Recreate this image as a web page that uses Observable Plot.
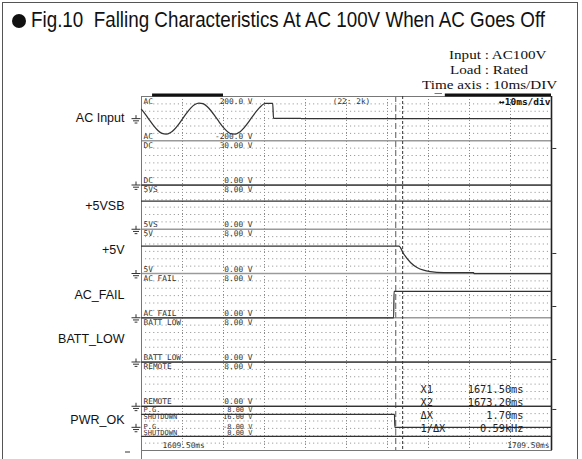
<!DOCTYPE html>
<html><head><meta charset="utf-8">
<script src="https://cdn.jsdelivr.net/npm/d3@7"></script>
<script src="https://cdn.jsdelivr.net/npm/@observablehq/plot@0.6"></script>
<style>
body{margin:0;background:#fff;}
#wrap{position:relative;width:582px;height:459px;overflow:hidden;background:#fff;}
#box{position:absolute;left:2px;top:2px;width:574px;height:500px;border:1.5px solid #555;z-index:3;pointer-events:none;}
#titlebar{position:relative;height:40px;}
#bullet{position:absolute;left:12px;top:14px;width:14px;height:14px;border-radius:50%;background:#111;}
#ttext{position:absolute;left:31px;top:9px;font:22px/22px "Liberation Sans",Arial,sans-serif;color:#111;white-space:pre;transform-origin:0 0;}
.hl{position:absolute;font:13.5px/12px "Liberation Serif","Times New Roman",serif;color:#111;white-space:pre;z-index:2;transform-origin:0 0;}
#chart{position:relative;}
</style></head>
<body>
<div id="wrap">
  <div id="box"></div>
  <div id="titlebar"><span id="bullet"></span><span id="ttext">Fig.10  Falling Characteristics At AC 100V When AC Goes Off</span></div>
  <div id="header"></div>
  <div id="chart"></div>
</div>
<script>
// ---------- data ----------
const timeDomain = [1609.5, 1709.5];           // ms, 10 ms/div
const channelNames  = ["AC", "DC", "5VS", "5V", "AC FAIL", "BATT LOW", "REMOTE"];
const channelTop    = ["200.0 V", "30.00 V", "8.00 V", "8.00 V", "8.00 V", "8.00 V", "8.00 V"];
const channelBottom = ["-200.0 V", "0.00 V", "0.00 V", "0.00 V", "0.00 V", "0.00 V", "0.00 V"];
const channelMin = [-200, 0, 0, 0, 0, 0, 0];
const channelMax = [200, 30, 8, 8, 8, 8, 8];

const pgNames = ["P.G.", "SHUTDOWN", "P.G.", "SHUTDOWN"];
const pgLabels = ["8.00 V", "16.00 V", "-8.00 V", "0.00 V"];
const pgMin = -8, pgMax = 8, sdMin = 0, sdMax = 16;

const sideLabels = ["AC Input", "+5VSB", "+5V", "AC_FAIL", "BATT_LOW", "PWR_OK"];
const sideLabelChannel = [0, 2, 3, 4, 5, 7];

const acTime = [1609.5,1610.5,1611.5,1612.5,1613.5,1614.5,1615.5,1616.5,1617.5,1618.5,1619.5,1620.5,1621.5,1622.5,1623.5,1624.5,1625.5,1626.5,1627.5,1628.5,1629.5,1630.5,1631.5,1632.5,1633.5,1634.5,1635.5,1636.5,1637.5,1638.5,1639.3,1639.8,1641.5,1641.7,1648.3,1648.5,1709.5];
const acVolt = [84,37,-16,-66,-108,-134,-141,-128,-98,-54,-2,50,95,127,141,135,110,69,19,-33,-82,-118,-138,-139,-120,-84,-37,16,66,108,132,137,137,3,3,0,0];
const dcTime = [1609.5, 1709.5], dcVolt = [0, 0];
const vsbTime = [1609.5, 1709.5], vsbVolt = [5.1, 5.1];
const v5Time = [1609.5,1672.3,1673.4,1675.1,1676.7,1678.3,1680.0,1683.2,1690.5,1690.6,1709.5];
const v5Volt = [4.95,4.95,3.6,2.0,1.1,0.6,0.35,0.18,0.15,0,0];
const acFailTime = [1609.5, 1671.0, 1671.1, 1709.5], acFailVolt = [0, 0, 4.75, 4.75];
const battTime = [1609.5, 1709.5], battVolt = [0, 0];
const remoteTime = [1609.5, 1709.5], remoteVolt = [0, 0];
const pgTime = [1609.5, 1671.2, 1671.3, 1709.5], pgVolt = [3.7, 3.7, -3.2, -3.2];
const sdTime = [1609.5, 1709.5], sdVolt = [0, 0];

const cursorTimes = [1671.5, 1673.2];
const cursorNames = ["X1", "X2", "ΔX", "1/ΔX"];
const cursorValues = ["1671.50ms", "1673.20ms", "1.70ms", "0.59kHz"];
const timeLabels = ["1609.50ms", "1709.50ms"];
const rateLabel = "(22: 2k)";
const divLabel = "↔10ms/div";
const topBars = [{from: 1612.2, to: 1629.5}, {from: 1683.6, to: 1709.5}];
const topDash = [{from: 1681.1, to: 1682.9}];
const rightTickDivs = [6.825, 4.452, 3.254, 2.056, 0.927];

const headerKeys = ["Input", "Load", "Time axis"];
const headerVals = ["AC100V", "Rated", "10ms/DIV"];

// ---------- helpers ----------
const [t0, t1] = timeDomain;
const toDiv = (i, v) => (7 - i) + (v - channelMin[i]) / (channelMax[i] - channelMin[i]);
const pgBand = [0.32, 1];
const toPg = (v, lo, hi) => pgBand[0] + (v - lo) / (hi - lo) * (pgBand[1] - pgBand[0]);
const zip = (ts, vs, f, s) => ts.map((t, k) => ({t, y: f(vs[k]), s}));

const traces = [
  ...zip(acTime, acVolt, v => toDiv(0, v), "AC"),
  ...zip(dcTime, dcVolt, v => toDiv(1, v), "DC"),
  ...zip(vsbTime, vsbVolt, v => toDiv(2, v), "5VS"),
  ...zip(v5Time, v5Volt, v => toDiv(3, v), "5V"),
  ...zip(acFailTime, acFailVolt, v => toDiv(4, v), "ACFAIL"),
  ...zip(battTime, battVolt, v => toDiv(5, v), "BATT"),
  ...zip(remoteTime, remoteVolt, v => toDiv(6, v), "REMOTE"),
  ...zip(pgTime, pgVolt, v => toPg(v, pgMin, pgMax), "PG"),
  ...zip(sdTime, sdVolt, v => toPg(v, sdMin, sdMax), "SD")
];

const rows = [];
for (let k = 0; k < 8; k++) for (let j = 1; j < 6; j++) rows.push(k + j / 6);
const majors = d3.range(1, 10).map(k => t0 + k * 10);
const separators = d3.range(1, 8);

const topRows = channelNames.map((n, i) => ({n, v: channelTop[i], y: 8 - i}));
const botRows = channelNames.map((n, i) => ({n, v: channelBottom[i], y: 7 - i}));
const sideRows = sideLabels.map((n, k) => {
  const c = sideLabelChannel[k];
  return {n, y: c < 7 ? (7 - c) + 0.5 : (pgBand[0] + pgBand[1]) / 2};
});
const groundLevels = channelNames.map((n, i) => toDiv(i, 0));

const groundSymbol = {draw(ctx) {
  ctx.moveTo(0, -3.5); ctx.lineTo(0, 0);
  ctx.moveTo(-4.5, 0); ctx.lineTo(4.5, 0);
  ctx.moveTo(-3, 2.2); ctx.lineTo(3, 2.2);
  ctx.moveTo(-1.4, 4.4); ctx.lineTo(1.4, 4.4);
}};
const tickSymbol = {draw(ctx) { ctx.moveTo(0, 0); ctx.lineTo(4, 0); }};
const dashSymbol = {draw(ctx) { ctx.moveTo(-2.5, 0); ctx.lineTo(2.5, 0); }};

const mono = "DejaVu Sans Mono, Liberation Mono, monospace";
const small = {fontFamily: mono, fontSize: 7.8, fill: "#333"};
const tiny = {fontFamily: mono, fontSize: 7, fill: "#333"};
const T0 = () => t0, T1 = () => t1;

const marks = [
  Plot.ruleY(rows, {stroke: "#8c8c8c", strokeWidth: 1, strokeDasharray: "1,3.1"}),
  Plot.ruleX(majors, {stroke: "#8c8c8c", strokeWidth: 1, strokeDasharray: "1,2"}),
  Plot.ruleY(separators, {stroke: "#9a9a9a", strokeWidth: 1.6}),
  Plot.frame({stroke: "#777", strokeWidth: 1}),
  Plot.ruleX([t1], {stroke: "#222", strokeWidth: 1.6}),
  Plot.ruleX([t0], {y1: () => 0, y2: () => -0.25, stroke: "#777"}),
  Plot.ruleX([cursorTimes[0]], {stroke: "#777", strokeWidth: 1.2, strokeDasharray: "6,3"}),
  Plot.ruleX([cursorTimes[1]], {stroke: "#333", strokeWidth: 1, strokeDasharray: "3,2"}),
  Plot.line(traces, {x: "t", y: "y", z: "s", stroke: "#333", strokeWidth: 1.25, curve: "monotone-x"}),
  Plot.ruleY(topBars, {y: () => 8, x1: "from", x2: "to", dy: -1.5, stroke: "#111", strokeWidth: 3}),
  Plot.ruleY(topDash, {y: () => 8, x1: "from", x2: "to", dy: -3, stroke: "#777", strokeWidth: 1}),
  // channel labels
  Plot.text(topRows, {x: T0, y: "y", text: "n", dx: 2, dy: 4.5, textAnchor: "start", ...small}),
  Plot.text(topRows, {x: T0, y: "y", text: "v", dx: 111, dy: 4.5, textAnchor: "end", ...small}),
  Plot.text(botRows, {x: T0, y: "y", text: "n", dx: 2, dy: -4.5, textAnchor: "start", ...small}),
  Plot.text(botRows, {x: T0, y: "y", text: "v", dx: 111, dy: -4.5, textAnchor: "end", ...small}),
  ...[3.4, 10.2].map((dy, k) => Plot.text([k], {x: T0, y: () => pgBand[1], text: () => pgNames[k], dx: 2, dy, textAnchor: "start", ...tiny})),
  ...[3.4, 10.2].map((dy, k) => Plot.text([k], {x: T0, y: () => pgBand[1], text: () => pgLabels[k], dx: 111, dy, textAnchor: "end", ...tiny})),
  ...[-10, -3.2].map((dy, k) => Plot.text([k], {x: T0, y: () => pgBand[0], text: () => pgNames[k + 2], dx: 2, dy, textAnchor: "start", ...tiny})),
  ...[-10, -3.2].map((dy, k) => Plot.text([k], {x: T0, y: () => pgBand[0], text: () => pgLabels[k + 2], dx: 111, dy, textAnchor: "end", ...tiny})),
  Plot.text([timeLabels[0]], {x: T0, y: () => 0, text: d => d, dx: 21, dy: -5, textAnchor: "start", ...small}),
  Plot.text([timeLabels[1]], {x: T1, y: () => 0, text: d => d, dx: -2, dy: -5, textAnchor: "end", ...small}),
  Plot.text([rateLabel], {x: () => (t0 + t1) / 2, y: () => 8, text: d => d, dx: 5, dy: 4.5, textAnchor: "middle", ...small}),
  Plot.text([divLabel], {x: T1, y: () => 8, text: d => d, dx: -1, dy: 5, textAnchor: "end", fontFamily: mono, fontSize: 9.5, fontWeight: "bold", fill: "#111"}),
  // cursor readout
  ...cursorNames.map((n, k) => Plot.text([n], {x: T1, y: () => 1, text: d => d, dx: -131, dy: -16.75 + 13 * k, textAnchor: "start", fontFamily: mono, fontSize: 10.3, fill: "#222"})),
  ...cursorValues.map((n, k) => Plot.text([n], {x: T1, y: () => 1, text: d => d, dx: -28, dy: -16.75 + 13 * k, textAnchor: "end", fontFamily: mono, fontSize: 10.3, fill: "#222"})),
  // side labels
  Plot.text(sideRows, {x: T0, y: "y", text: "n", dx: -17, dy: -1, textAnchor: "end", fontFamily: "Liberation Sans, Arial, sans-serif", fontSize: 12.5, fill: "#111", ariaLabel: "side-labels"}),
  // ground symbols & ticks
  Plot.dot(groundLevels, {x: T0, y: d => d, dx: -5.5, symbol: groundSymbol, stroke: "#333", fill: "none", strokeWidth: 1}),
  Plot.dot([0], {x: T0, y: () => pgBand[0], dx: -5.5, dy: -9, symbol: groundSymbol, stroke: "#333", fill: "none", strokeWidth: 1}),
  Plot.dot([0], {x: T0, y: () => 0, dx: -14, dy: 1.5, symbol: dashSymbol, stroke: "#333", fill: "none", strokeWidth: 1}),
  Plot.dot(rightTickDivs, {x: T1, y: d => d, dx: 0.8, symbol: tickSymbol, stroke: "#333", fill: "none", strokeWidth: 1})
];

const chart = Plot.plot({
  width: 582, height: 419,
  marginTop: 56, marginBottom: 9, marginLeft: 141, marginRight: 31,
  x: {domain: timeDomain, axis: null},
  y: {domain: [0, 8], axis: null},
  style: {background: "transparent", overflow: "visible"},
  marks
});
document.getElementById("chart").append(chart);

// condensed side labels
chart.querySelectorAll('g[aria-label="side-labels"] text').forEach(t => {
  const w = t.getComputedTextLength();
  t.setAttribute("textLength", (w * 0.87).toFixed(1));
  t.setAttribute("lengthAdjust", "spacingAndGlyphs");
});

// title fit
const tt = document.getElementById("ttext");
const tw = tt.getBoundingClientRect().width;
tt.style.transform = `scaleX(${514 / tw})`;

// header lines: one text per line, colons aligned
const header = document.getElementById("header");
const baselines = [59.5, 74.5, 89.5];
const colonX = 485, stretch = 1.12;
const probe = document.createElement("span");
probe.className = "hl"; probe.style.visibility = "hidden";
header.append(probe);
headerKeys.forEach((k, i) => {
  probe.textContent = k + " ";
  const pre = probe.getBoundingClientRect().width * stretch;
  const line = document.createElement("div");
  line.className = "hl";
  line.textContent = k + " : " + headerVals[i];
  line.style.left = (colonX - pre) + "px";
  line.style.top = (baselines[i] - 10.5) + "px";
  line.style.transform = `scaleX(${stretch})`;
  header.append(line);
});
probe.remove();
</script>
</body></html>
